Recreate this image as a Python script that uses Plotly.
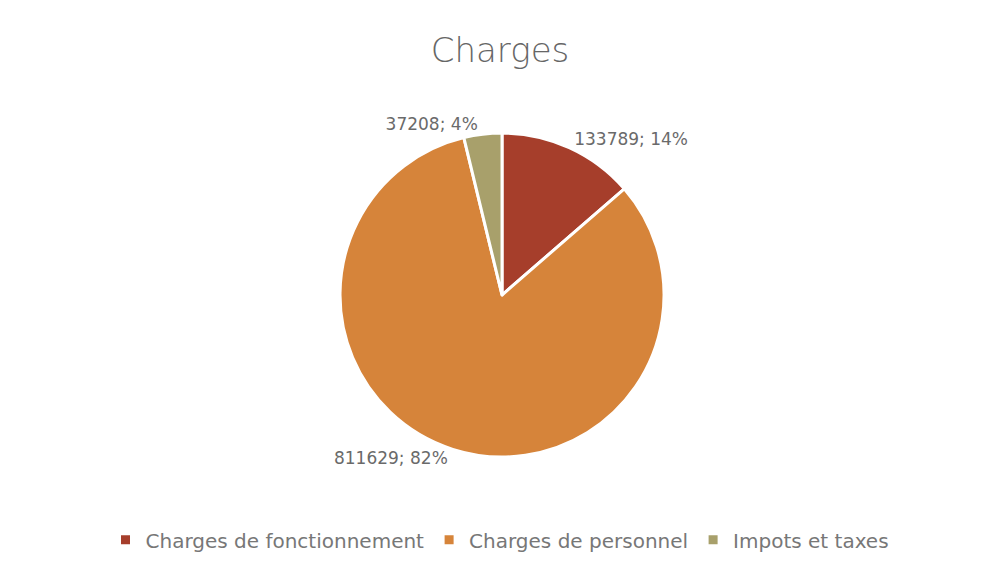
import plotly.graph_objects as go

categories = ["Charges de fonctionnement", "Charges de personnel", "Impots et taxes"]
values = [133789, 811629, 37208]
percents = ["14%", "82%", "4%"]
colors = ["#A63E2B", "#D6843A", "#A8A06B"]

labels_text = [f"{v}; {p}" for v, p in zip(values, percents)]

fig = go.Figure(go.Pie(
    labels=categories,
    values=values,
    text=labels_text,
    textinfo="text",
    textposition="outside",
    sort=False,
    direction="clockwise",
    rotation=0,
    marker=dict(colors=colors, line=dict(color="white", width=3)),
    textfont=dict(family="DejaVu Sans, sans-serif", size=17, color="#6a6a6a"),
    domain=dict(x=[0.3374, 0.6667], y=[0.2081, 0.7795]),
    showlegend=True,
))

fig.update_layout(
    width=984, height=567,
    paper_bgcolor="white", plot_bgcolor="white",
    margin=dict(l=0, r=0, t=0, b=0),
    title=dict(text="Charges", x=0.5, xanchor="center", y=0.926, yanchor="middle",
               font=dict(family="DejaVu Sans, sans-serif", size=34, color="#666666", weight=200)),
    legend=dict(orientation="h", x=0.5, xanchor="center", y=0.062, yanchor="middle",
                font=dict(family="DejaVu Sans, sans-serif", size=20, color="#777777"),
                itemwidth=30, traceorder="normal"),
)

fig.write_html("out.html")
